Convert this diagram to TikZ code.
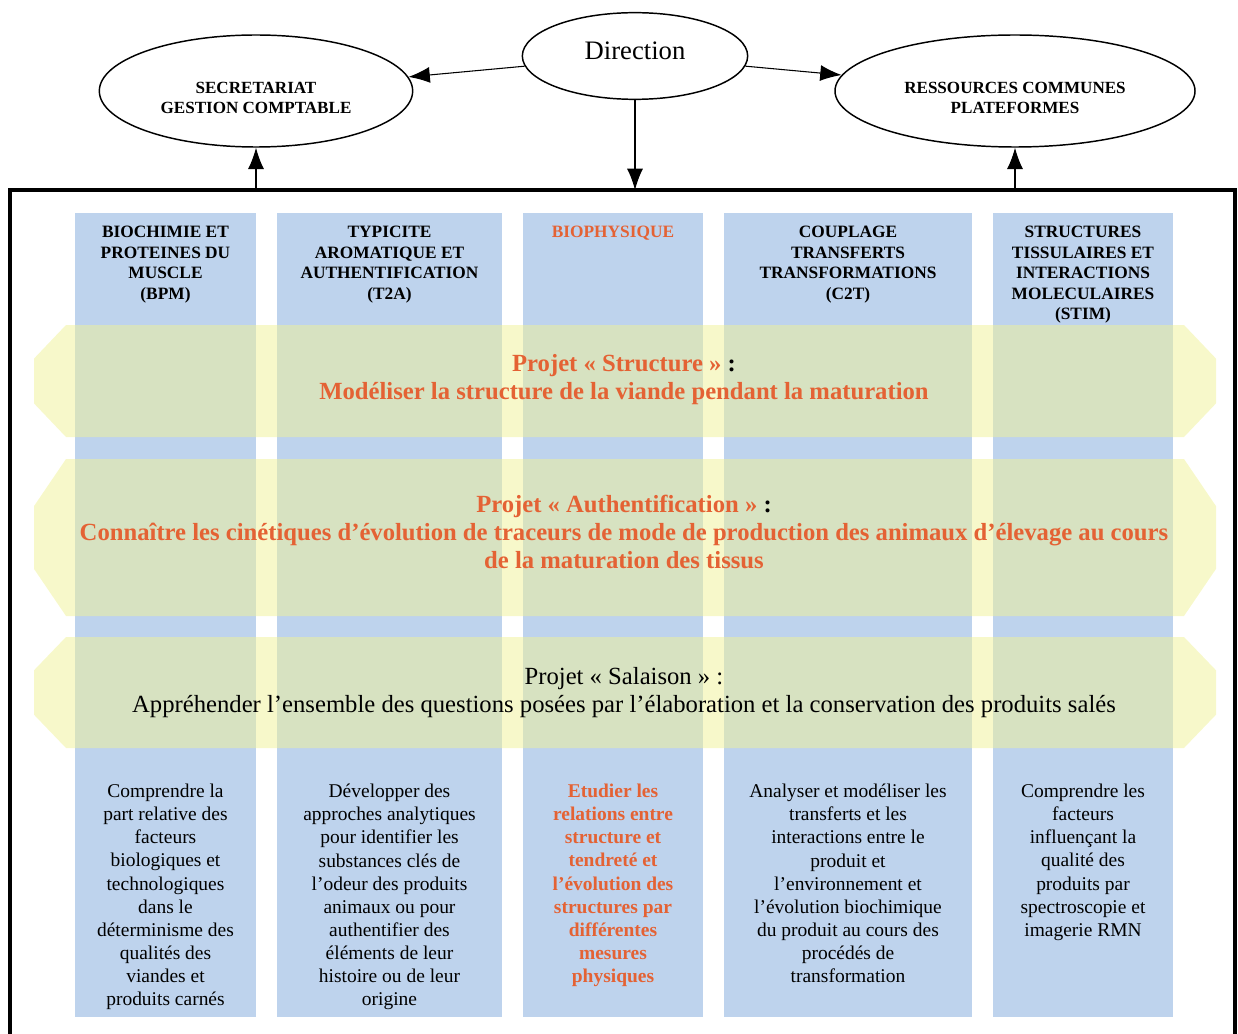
\documentclass[tikz,border=0pt]{standalone}
\usepackage{fontspec}
\setmainfont{Liberation Serif}
\usetikzlibrary{shapes.geometric,arrows.meta,positioning}
\definecolor{colblue}{RGB}{190,211,237}
\definecolor{bandyel}{RGB}{240,242,150}
\definecolor{orng}{RGB}{228,98,52}

\begin{document}
\begin{tikzpicture}[
    x=0.75pt, y=-0.75pt,
    oval/.style={draw, ellipse, line width=1.1pt, inner sep=0pt, minimum height=84pt},
    ovaltext/.style={align=center, yshift=-5pt, font=\fontsize{12.8}{15}\selectfont\bfseries},
    link/.style={-{Latex[length=16pt,width=12pt]}, line width=0.8pt},
    head/.style={anchor=north, align=center, inner sep=0pt, font=\fontsize{13}{15.4}\selectfont\bfseries},
    body/.style={anchor=north, align=center, inner sep=0pt, font=\fontsize{14.6}{17.3}\selectfont},
    band/.style={fill=bandyel, fill opacity=0.5},
    proj/.style={align=center, inner sep=0pt, text=orng, font=\fontsize{18.5}{21}\selectfont\bfseries}
]
\useasboundingbox (0,0) rectangle (1238,1034);
\clip (0,0) rectangle (1238,1034);

% columns
\foreach \l/\r in {75/256, 277/502, 523/703, 724/972, 993/1173}
    \fill[colblue] (\l,213) rectangle (\r,1017);

% project bands
\foreach \t/\b in {325/437, 459/616, 637/748}
    \fill[band] (66,\t) -- (1184,\t) -- (1216,{\t+0.3*(\b-\t)}) -- (1216,{\b-0.3*(\b-\t)})
        -- (1184,\b) -- (66,\b) -- (34,{\b-0.3*(\b-\t)}) -- (34,{\t+0.3*(\b-\t)}) -- cycle;

% frame
\coordinate (ftop) at (0,190);
\draw[line width=2.8pt] (10,1050) |- (1235,190) -- (1235,1050);

\node[oval, minimum width=235pt, label={[ovaltext]center:{SECRETARIAT\\GESTION COMPTABLE}}] (secr) at (256,91) {};
\node[oval, minimum width=169pt, minimum height=65pt, label={[ovaltext, yshift=9pt, font=\fontsize{20}{24}\selectfont]center:Direction}] (dir) at (635,56) {};
\node[oval, minimum width=270pt, label={[ovaltext]center:{RESSOURCES COMMUNES\\PLATEFORMES}}] (ress) at (1015,91) {};

\draw[link] (dir) -- (secr);
\draw[link] (dir) -- (ress);
\draw[link] (dir.south) -- (dir.south |- ftop);
\draw[link] (secr.south |- ftop) -- (secr.south);
\draw[link] (ress.south |- ftop) -- (ress.south);

\node[head] (hbpm) at (165.5,226) {BIOCHIMIE ET\\PROTEINES DU\\MUSCLE\\(BPM)};
\node[head] (ht2a) at (389.5,226) {TYPICITE\\AROMATIQUE ET\\AUTHENTIFICATION\\(T2A)};
\node[head, text=orng] (hbio) at (613,226) {BIOPHYSIQUE};
\node[head] (hc2t) at (848,226) {COUPLAGE\\TRANSFERTS\\TRANSFORMATIONS\\(C2T)};
\node[head] (hstim) at (1083,226) {STRUCTURES\\TISSULAIRES ET\\INTERACTIONS\\MOLECULAIRES\\(STIM)};

\node[proj] (pstruct) at (624,380) {Projet « Structure »~\textcolor{black}{:}\\Modéliser la structure de la viande pendant la maturation};
\node[proj] (pauth) at (624,532) {Projet « Authentification »~\textcolor{black}{:}\\Connaître les cinétiques d’évolution de traceurs de mode de production des animaux d’élevage au cours\\de la maturation des tissus};
\node[proj, text=black, font=\fontsize{18.5}{21}\selectfont] (psal) at (624,693) {Projet « Salaison » :\\Appréhender l’ensemble des questions posées par l’élaboration et la conservation des produits salés};

\node[body] (tbpm) at (165.5,784) {Comprendre la\\part relative des\\facteurs\\biologiques et\\technologiques\\dans le\\déterminisme des\\qualités des\\viandes et\\produits carnés};
\node[body] (tt2a) at (389.5,784) {Développer des\\approches analytiques\\pour identifier les\\substances clés de\\l’odeur des produits\\animaux ou pour\\authentifier des\\éléments de leur\\histoire ou de leur\\origine};
\node[body, text=orng, font=\fontsize{14.6}{17.3}\selectfont\bfseries] (tbio) at (613,784) {Etudier les\\relations entre\\structure et\\tendreté et\\l’évolution des\\structures par\\différentes\\mesures\\physiques};
\node[body] (tc2t) at (848,784) {Analyser et modéliser les\\transferts et les\\interactions entre le\\produit et\\l’environnement et\\l’évolution biochimique\\du produit au cours des\\procédés de\\transformation};
\node[body] (tstim) at (1083,784) {Comprendre les\\facteurs\\influençant la\\qualité des\\produits par\\spectroscopie et\\imagerie RMN};
\end{tikzpicture}
\end{document}
